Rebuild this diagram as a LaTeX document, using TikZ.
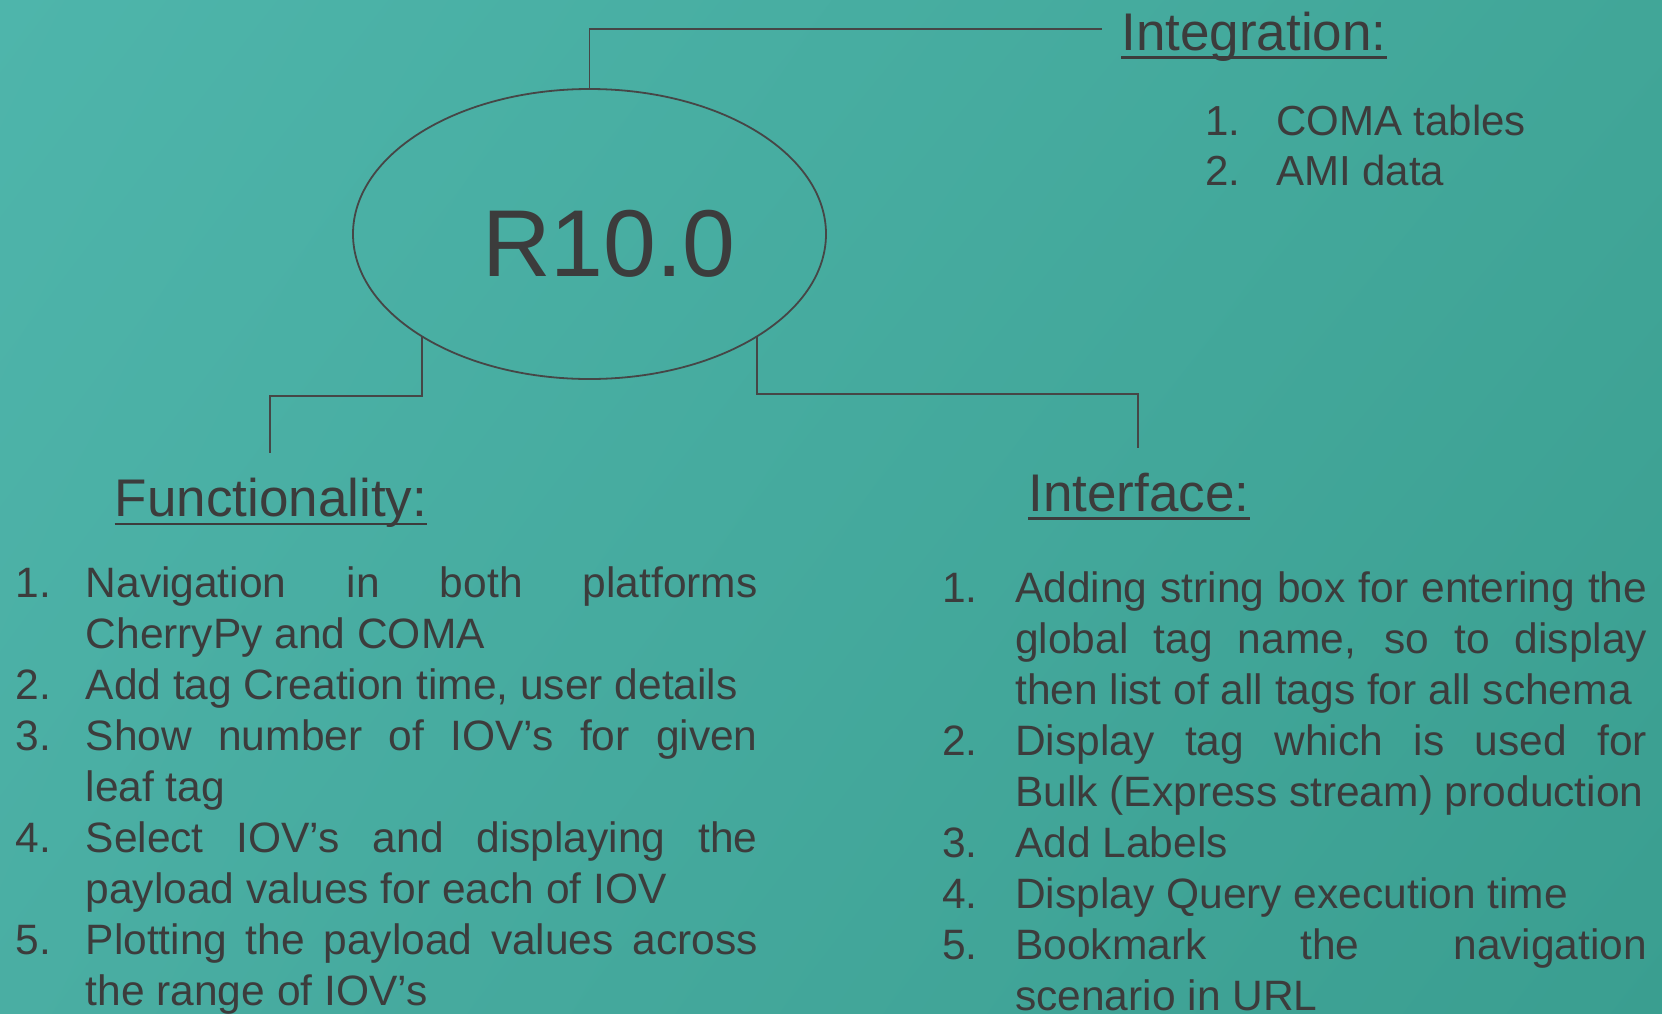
\documentclass[tikz,border=0pt]{standalone}
\usepackage{fontspec}
\setmainfont{Liberation Sans}
\usetikzlibrary{shapes.geometric,shadings}

\definecolor{ink}{HTML}{3C3C3C}
\definecolor{bgUL}{HTML}{4EB5AB}
\definecolor{bgUR}{HTML}{41A698}
\definecolor{bgLL}{HTML}{4AAEA3}
\definecolor{bgLR}{HTML}{3A9E90}

% one list entry line: number column, then the text
\newlength\numcol
\setlength\numcol{75pt}
\newlength\bodyw
\newcommand\plainline[2]{\hbox{\makebox[\numcol][l]{#1}#2}}
\newcommand\fullline[2]{\hbox{\makebox[\numcol][l]{#1}\makebox[\bodyw][s]{#2}}}

\tikzset{
  heading/.style={inner sep=0pt, anchor=base, text=ink,
    font=\fontsize{53}{60}\selectfont},
  listtext/.style={inner sep=0pt, anchor=base west, text=ink},
  link/.style={draw=ink!95, line width=1.8pt},
  rule/.style={draw=ink, line width=2.8pt},
}

\begin{document}
\begin{tikzpicture}[x=1pt, y=-1pt]
  % canvas
  \useasboundingbox (0,0) rectangle (1662,1013);
  \shade[upper left=bgUL, upper right=bgUR, lower left=bgLL, lower right=bgLR]
    (0,0) rectangle (1662,1013);

  % central release bubble
  \node[ellipse, draw=ink!95, line width=1.8pt, minimum width=473pt,
        minimum height=290pt, inner sep=0pt] (core) at (589.5,234) {};
  \node[inner sep=0pt, anchor=base, text=ink,
        font=\fontsize{95}{100}\selectfont] (title) at (609,276) {R10.0};

  % section headings
  \node[heading] (integ) at (1254,50) {Integration:};
  \node[heading] (func) at (271,516.5) {Functionality:};
  \node[heading] (iface) at (1139,511) {Interface:};
  \foreach \h in {integ,func,iface}
    \draw[rule] ([yshift=-7.5pt]\h.base west) -- ([yshift=-7.5pt]\h.base east);

  % connector ends
  \coordinate (integEnd) at (1102,29);
  \coordinate (funcEnd) at (270,453);
  \coordinate (ifaceEnd) at (1138,448);

  % connectors
  \draw[link] (core.north) |- (integEnd);
  \draw[link] (core.south west) -- ++(0,58.5) -| (funcEnd);
  \draw[link] (core.south east) -- ++(0,57) -| (ifaceEnd);

  % integration items
  \node[listtext] (integList) at (1205,135)
    {\fontsize{42}{50}\selectfont\setlength\numcol{71pt}\vtop{%
      \plainline{1.}{COMA tables}
      \plainline{2.}{AMI data}}};

  % functionality items
  \node[listtext] (funcList) at (15.5,597)
    {\fontsize{42.5}{51}\selectfont\setlength\numcol{70pt}\setlength\bodyw{672pt}\vtop{%
      \fullline{1.}{Navigation in both platforms}
      \plainline{}{CherryPy and COMA}
      \plainline{2.}{Add tag Creation time, user details}
      \fullline{3.}{Show number of IOV’s for given}
      \plainline{}{leaf tag}
      \fullline{4.}{Select IOV’s and displaying the}
      \plainline{}{payload values for each of IOV}
      \fullline{5.}{Plotting the payload values across}
      \plainline{}{the range of IOV’s}}};

  % interface items
  \node[listtext] (ifaceList) at (942,602)
    {\fontsize{42.5}{51}\selectfont\setlength\numcol{73pt}\setlength\bodyw{632pt}\vtop{%
      \fullline{1.}{Adding string box for entering the}
      \fullline{}{global tag name, so to display}
      \plainline{}{then list of all tags for all schema}
      \fullline{2.}{Display tag which is used for}
      \plainline{}{Bulk (Express stream) production}
      \plainline{3.}{Add Labels}
      \plainline{4.}{Display Query execution time}
      \fullline{5.}{Bookmark the navigation}
      \plainline{}{scenario in URL}}};
\end{tikzpicture}
\end{document}
